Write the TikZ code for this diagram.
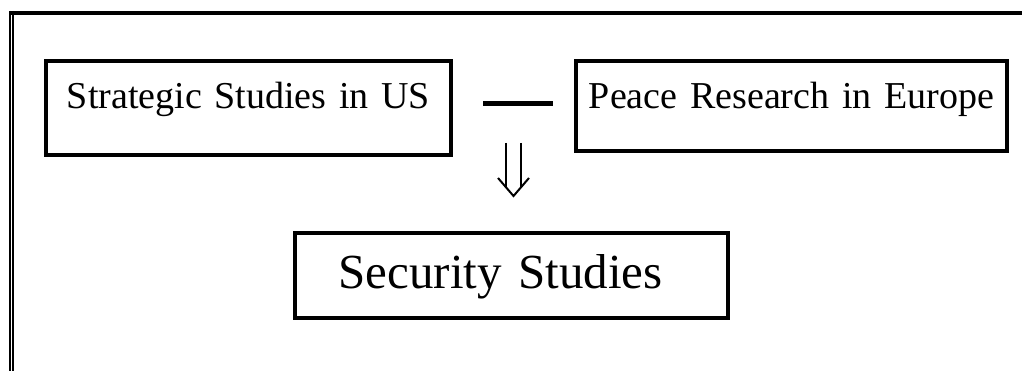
\documentclass[tikz,border=0pt]{standalone}
\usepackage{fontspec}
\setmainfont{Liberation Serif}
\begin{document}
\begin{tikzpicture}[x=1pt,y=-1pt,
  box/.style={draw,line width=4pt,inner sep=0pt,align=center,anchor=north west},
  toptext/.style={font=\fontsize{38}{44}\selectfont},
  bigtext/.style={font=\fontsize{49}{58}\selectfont},
  frame/.style={line width=#1}]
\useasboundingbox (0,0) rectangle (1022,371);
% page border: heavy top rule, double rule on the left
\draw[frame=4pt] (9,13) -- (1022,13);
\draw[frame=1.8pt] (9.9,11) -- (9.9,371);
\draw[frame=2.4pt] (13.2,11) -- (13.2,371);
% the two source fields
\node[box,toptext,text width=405pt,text height=48pt,text depth=46pt]
  (us) at (44,59) {Strategic Studies in US};
\node[box,toptext,text width=431pt,text height=48pt,text depth=42pt]
  (eu) at (574,59) {Peace Research in Europe};
% the merged field
\node[box,bigtext,text width=433pt,text height=55pt,text depth=30pt]
  (sec) at (293,231) {Security Studies\kern22pt};
% dash between the two source fields
\coordinate (dashL) at (483,103.5);
\coordinate (dashR) at (553,103.5);
\draw[line width=5pt] (dashL) -- (dashR);
% double arrow pointing down to the merged field
\coordinate (arr) at (513.5,143);
\begin{scope}[line width=2pt]
  \draw (arr) ++(-7.5,0) -- ++(0,45);
  \draw (arr) ++(7.5,0) -- ++(0,45);
  \draw[line join=miter] (arr) ++(-15.5,35) -- ++(15.5,18) -- ++(15.5,-18);
\end{scope}
\end{tikzpicture}
\end{document}
